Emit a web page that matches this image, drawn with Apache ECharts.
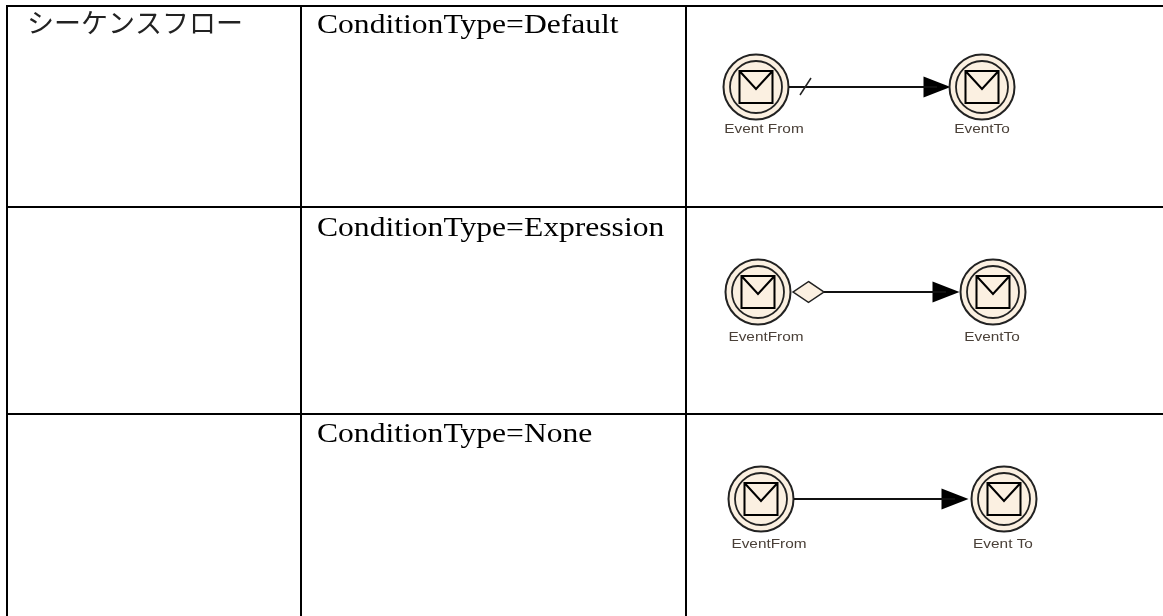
<!DOCTYPE html>
<html>
<head>
<meta charset="utf-8">
<style>
  html, body { margin: 0; padding: 0; background: #fff; }
  #main { width: 1163px; height: 616px; }
</style>
<script src="https://cdn.jsdelivr.net/npm/echarts@6/dist/echarts.min.js"></script>
</head>
<body>
<div id="main"></div>
<script>
// table rules, page pixels as axis units
const ruleX = [7, 301, 686];
const ruleY = [6, 207, 414];

// cell texts
const kanaText = ['シーケンスフロー'];
const kanaX = [27];
const kanaY = [23];
const conditionTexts = ['ConditionType=Default', 'ConditionType=Expression', 'ConditionType=None'];
const conditionX = [317, 317, 317];
const conditionY = [26, 229, 435];

// one entry per table row
const fromX = [756, 758, 761];
const toX = [982, 993, 1004];
const eventY = [87, 292, 499];
const lineStartX = [789, 824, 794];
const arrowX = [937, 946, 955];
const fromNames = ['Event From', 'EventFrom', 'EventFrom'];
const toNames = ['EventTo', 'EventTo', 'Event To'];
const fromLabelX = [764, 766, 769];
const toLabelX = [982, 992, 1003];
const labelY = [130, 338, 545];

// condition markers
const slashX = [800, 811];
const slashY = [95, 78];
const diamondPoint = [808.5, 292];

const ink = '#000';
const paper = '#fbf0e1';
const envelope = 'path://M0 0H34V32H0ZM0 0L17 18L34 0';

const eventPoints = [];
fromX.forEach((x, i) => {
  eventPoints.push([x, eventY[i]]);
  eventPoints.push([toX[i], eventY[i]]);
});

const lineData = [];
fromX.forEach((x, i) => {
  lineData.push([lineStartX[i], eventY[i]], [arrowX[i], eventY[i]], [null, null]);
});

const ruleSeries = [];
ruleX.forEach((x) => ruleSeries.push([[x, 5], [x, 616]]));
ruleY.forEach((y) => ruleSeries.push([[6, y], [1163, y]]));

// text series, scaleX makes up for the wider fonts of the original
const textSeries = (rows, font, color, scaleX, align) => ({
  type: 'custom',
  silent: true,
  coordinateSystem: 'cartesian2d',
  data: rows,
  encode: { x: 0, y: 1 },
  renderItem: (params, api) => {
    const pt = api.coord([api.value(0), api.value(1)]);
    return {
      type: 'text',
      x: pt[0],
      y: pt[1],
      scaleX: scaleX,
      style: {
        text: rows[params.dataIndex][2],
        font: font,
        fill: color,
        align: align,
        verticalAlign: 'middle'
      }
    };
  }
});

let chart = echarts.init(document.getElementById('main'));

chart.setOption({
  animation: false,
  grid: { left: 0, right: 0, top: 0, bottom: 0 },
  xAxis: { type: 'value', min: 0, max: 1163, show: false },
  yAxis: { type: 'value', min: 0, max: 616, inverse: true, show: false },
  series: [
    ...ruleSeries.map((d) => ({
      type: 'line', data: d, symbol: 'none', silent: true,
      lineStyle: { color: ink, width: 2 }
    })),
    {
      type: 'line', data: lineData, symbol: 'none', silent: true, connectNulls: false,
      lineStyle: { color: '#111', width: 2 }
    },
    {
      type: 'line', data: [[slashX[0], slashY[0]], [slashX[1], slashY[1]]], symbol: 'none', silent: true,
      lineStyle: { color: '#222', width: 1.5 }
    },
    {
      type: 'scatter', data: [diamondPoint], symbol: 'diamond', symbolSize: [31, 21], silent: true,
      itemStyle: { color: paper, borderColor: '#222', borderWidth: 1.5, opacity: 1 }
    },
    {
      type: 'scatter', data: arrowX.map((x, i) => [x, eventY[i]]), symbol: 'triangle',
      symbolRotate: -90, symbolSize: [21, 27], silent: true,
      itemStyle: { color: '#000', opacity: 1 }
    },
    {
      type: 'scatter', data: eventPoints, symbol: 'circle', symbolSize: 65, silent: true,
      itemStyle: { color: paper, borderColor: '#222', borderWidth: 2, opacity: 1 }
    },
    {
      type: 'scatter', data: eventPoints, symbol: 'circle', symbolSize: 52, silent: true,
      itemStyle: { color: paper, borderColor: '#222', borderWidth: 1.8, opacity: 1 }
    },
    {
      type: 'scatter', data: eventPoints, symbol: envelope, symbolSize: [33, 32], silent: true,
      itemStyle: { color: paper, borderColor: '#000', borderWidth: 2, opacity: 1 }
    },
    textSeries(
      fromLabelX.map((x, i) => [x, labelY[i], fromNames[i]]).concat(toLabelX.map((x, i) => [x, labelY[i], toNames[i]])),
      '12px "Liberation Sans"', '#4a4038', 1.28, 'center'
    ),
    textSeries(
      conditionTexts.map((t, i) => [conditionX[i], conditionY[i], t]),
      '27px "Liberation Serif"', '#000', 1.17, 'left'
    ),
    textSeries(
      kanaText.map((t, i) => [kanaX[i], kanaY[i], t]),
      '27px "Noto Sans CJK JP"', '#222', 1, 'left'
    )
  ]
});

window.onresize = function () {
  chart.resize();
};
</script>
</body>
</html>
